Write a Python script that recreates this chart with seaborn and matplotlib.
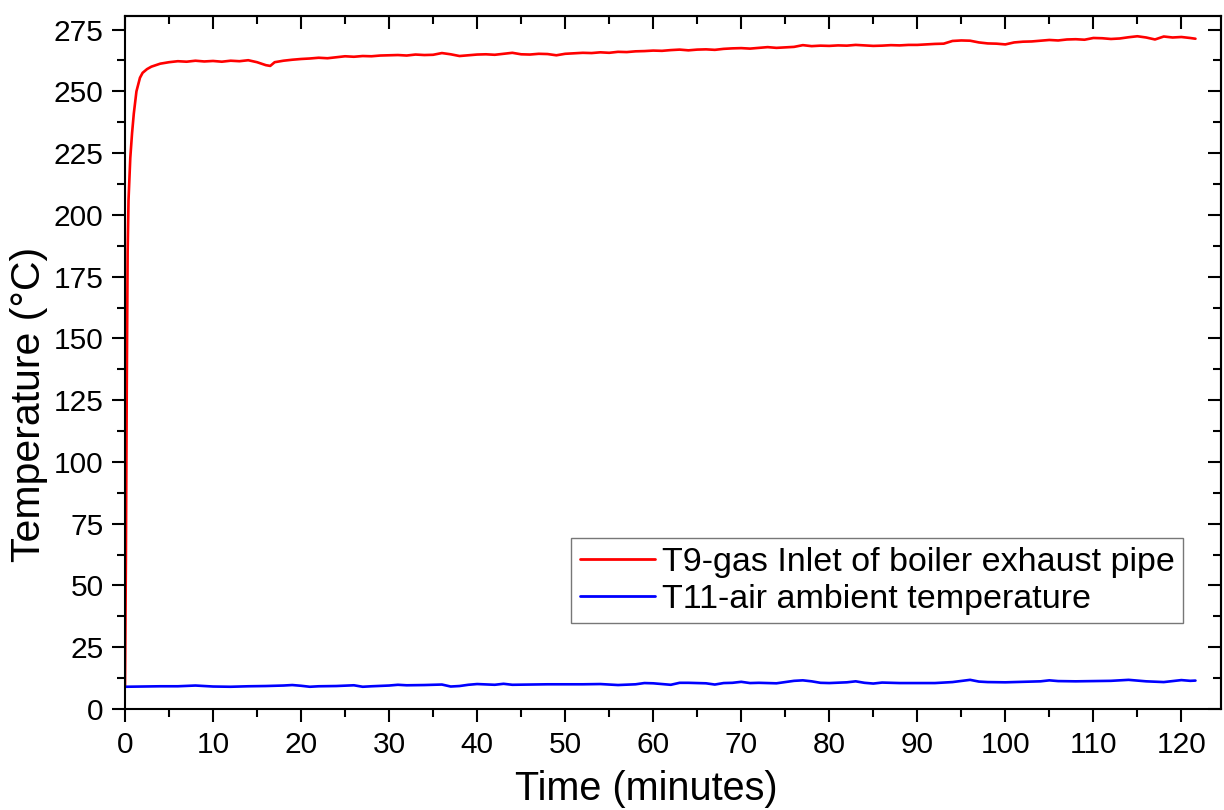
import pandas as pd
import matplotlib
matplotlib.use('Agg')
import matplotlib.pyplot as plt
import seaborn as sns
from matplotlib.ticker import MultipleLocator

# values
time_gas = [0, 0.1, 0.2, 0.3, 0.4, 0.6, 0.8, 1.0, 1.3, 1.7, 2.0, 2.5,
            3, 4, 5, 6, 7, 8, 9, 10, 11, 12, 13, 14, 15, 16, 16.5, 17, 18, 19,
            20, 21, 22, 23, 24, 25, 26, 27, 28, 29, 30, 31, 32, 33, 34, 35, 36, 37, 38, 39,
            40, 41, 42, 43, 44, 45, 46, 47, 48, 49, 50, 51, 52, 53, 54, 55, 56, 57, 58, 59,
            60, 61, 62, 63, 64, 65, 66, 67, 68, 69, 70, 71, 72, 73, 74, 75, 76, 77, 78, 79,
            80, 81, 82, 83, 84, 85, 86, 87, 88, 89, 90, 91, 92, 93, 94, 95, 96, 97, 98, 99,
            100, 101, 102, 103, 104, 105, 106, 107, 108, 109, 110, 111, 112, 113, 114, 115,
            116, 117, 118, 119, 120, 121, 121.6]
temp_gas = [9, 60, 130, 185, 206, 223, 233, 241, 250, 255.5, 257.5, 259,
            260, 261.2, 261.8, 262.2, 262.0, 262.4, 262.1, 262.3, 262.0, 262.4, 262.2, 262.6, 261.8, 260.6, 260.3, 261.8, 262.4, 262.8,
            263.1, 263.3, 263.6, 263.4, 263.8, 264.2, 264.0, 264.3, 264.2, 264.5, 264.6, 264.7, 264.5, 264.9, 264.7, 264.8, 265.5, 265.0, 264.3, 264.6,
            264.9, 265.0, 264.8, 265.2, 265.6, 265.0, 264.9, 265.2, 265.1, 264.6, 265.2, 265.4, 265.6, 265.5, 265.8, 265.6, 266.0, 265.9, 266.2, 266.3,
            266.5, 266.4, 266.7, 266.9, 266.6, 266.9, 267.0, 266.8, 267.2, 267.4, 267.5, 267.3, 267.6, 267.9, 267.6, 267.8, 268.0, 268.7, 268.3, 268.5,
            268.4, 268.6, 268.5, 268.8, 268.6, 268.4, 268.5, 268.7, 268.6, 268.8, 268.8, 269.0, 269.2, 269.3, 270.4, 270.6, 270.5, 269.8, 269.4, 269.3,
            269.0, 269.8, 270.1, 270.2, 270.5, 270.8, 270.6, 271.0, 271.1, 270.9, 271.6, 271.5, 271.2, 271.4, 271.9, 272.3,
            271.8, 271.0, 272.2, 271.8, 272.0, 271.6, 271.3]

time_air = [0, 2, 4, 6, 8, 10, 12, 14, 16, 18, 19, 20, 21, 22, 24, 26, 27, 28, 30, 31,
            32, 34, 36, 37, 38, 39, 40, 42, 43, 44, 46, 48, 50, 52, 54, 56, 58, 59, 60, 62,
            63, 64, 65, 66, 67, 68, 69, 70, 71, 72, 74, 76, 77, 78, 79, 80, 82, 83, 84, 85,
            86, 88, 90, 92, 94, 96, 97, 98, 100, 102, 104, 105, 106, 108, 110, 112, 114, 116,
            118, 119, 120, 121, 121.6]
temp_air = [9.0, 9.1, 9.2, 9.2, 9.5, 9.1, 9.0, 9.2, 9.3, 9.5, 9.7, 9.4, 9.0, 9.2, 9.3, 9.6, 9.0, 9.2, 9.5, 9.8,
            9.6, 9.7, 9.9, 9.1, 9.3, 9.8, 10.1, 9.8, 10.2, 9.8, 9.9, 10.0, 10.0, 10.0, 10.1, 9.7, 10.0, 10.5, 10.4, 9.8,
            10.6, 10.6, 10.5, 10.4, 9.9, 10.5, 10.6, 11.0, 10.5, 10.6, 10.4, 11.4, 11.6, 11.2, 10.6, 10.5, 10.8, 11.2, 10.6, 10.3,
            10.7, 10.5, 10.5, 10.5, 10.9, 11.8, 11.1, 10.9, 10.8, 11.0, 11.2, 11.6, 11.3, 11.2, 11.3, 11.4, 11.8, 11.2,
            10.9, 11.3, 11.7, 11.4, 11.5]

label_gas = 'T9-gas Inlet of boiler exhaust pipe'
label_air = 'T11-air ambient temperature'

df_gas = pd.DataFrame({'Time': time_gas, 'Temp': temp_gas})
df_air = pd.DataFrame({'Time': time_air, 'Temp': temp_air})

sns.set_style("ticks")
plt.rcParams['font.family'] = ['Liberation Sans', 'DejaVu Sans']
plt.rcParams['text.color'] = 'black'
plt.rcParams['axes.labelcolor'] = 'black'
plt.rcParams['xtick.color'] = 'black'
plt.rcParams['ytick.color'] = 'black'

fig = plt.figure(figsize=(12.24, 8.10), dpi=100)
ax = fig.add_axes([125/1224, 1 - 709/810, 1096/1224, 693/810])

sns.lineplot(data=df_gas, x='Time', y='Temp', color='#ff0000', lw=1.9, label=label_gas, ax=ax)
sns.lineplot(data=df_air, x='Time', y='Temp', color='#0000ff', lw=1.9, label=label_air, ax=ax)

ax.set_xlim(0, 124.5)
ax.set_ylim(0, 280.5)
ax.xaxis.set_major_locator(MultipleLocator(10))
ax.xaxis.set_minor_locator(MultipleLocator(5))
ax.yaxis.set_major_locator(MultipleLocator(25))
ax.yaxis.set_minor_locator(MultipleLocator(12.5))

for s in ax.spines.values():
    s.set_linewidth(1.5)
    s.set_color('black')
    s.set_visible(True)

ax.tick_params(which='major', direction='out', length=9.5, width=1.5, labelsize=21.5, pad=6,
               colors='black')
ax.tick_params(which='minor', direction='out', length=5.5, width=1.5, colors='black')

# inward ticks on the top and right edges
top = ax.secondary_xaxis('top')
top.xaxis.set_major_locator(MultipleLocator(10))
top.xaxis.set_minor_locator(MultipleLocator(5))
top.tick_params(which='major', direction='in', length=9.5, width=1.5, labeltop=False)
top.tick_params(which='minor', direction='in', length=5.5, width=1.5)
right = ax.secondary_yaxis('right')
right.yaxis.set_major_locator(MultipleLocator(25))
right.yaxis.set_minor_locator(MultipleLocator(12.5))
right.tick_params(which='major', direction='in', length=9.5, width=1.5, labelright=False)
right.tick_params(which='minor', direction='in', length=5.5, width=1.5)
for sec in (top, right):
    for s in sec.spines.values():
        s.set_linewidth(1.5)

ax.set_xlabel('Time (minutes)', fontsize=28.5, color='black')
ax.set_ylabel('Temperature (°C)', fontsize=29.5, color='black')
ax.xaxis.set_label_coords((646 - 125) / 1096, -0.088)
ax.yaxis.set_label_coords(-0.07, 0.44)

leg = ax.legend(loc='upper right', bbox_to_anchor=((1183 - 125) / 1096, (709 - 538) / 693),
                borderaxespad=0, frameon=True, fancybox=False, fontsize=24.5,
                borderpad=0.25, handlelength=2.2, handletextpad=0.2, labelspacing=0.18)
leg.get_frame().set_edgecolor('#555555')
leg.get_frame().set_linewidth(1.0)
for line in leg.get_lines():
    line.set_linewidth(2.0)
for t in leg.get_texts():
    t.set_color('black')

fig.savefig('out.png', dpi=100)
